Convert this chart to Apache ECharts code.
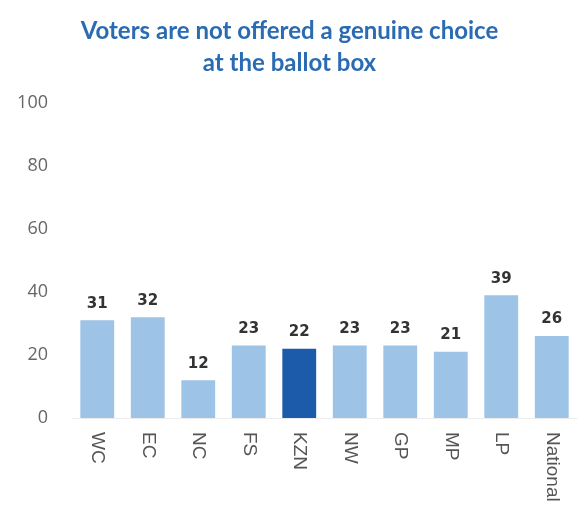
<!DOCTYPE html>
<html><head><meta charset="utf-8">
<script src="https://cdn.jsdelivr.net/npm/echarts@6/dist/echarts.min.js"></script>
<style>html,body{margin:0;padding:0;background:#fff}#c{width:579px;height:512px}</style>
</head><body><div id="c"></div>
<script>
const categories = ['WC','EC','NC','FS','KZN','NW','GP','MP','LP','National'];
const values = [31,32,12,23,22,23,23,21,39,26];
const highlight = 'KZN';
const titleText = 'Voters are not offered a genuine choice\nat the ballot box';
const chart = echarts.init(document.getElementById('c'));
chart.setOption({
  animation:false,
  title:{text:titleText,left:'center',top:10,textStyle:{color:'#2B6BB2',fontSize:24,fontWeight:'bold',fontFamily:'Lato',lineHeight:32}},
  grid:{left:72,right:2,top:103,bottom:94},
  xAxis:{type:'category',data:categories,axisTick:{show:false},axisLine:{lineStyle:{color:'#ececec'}},
    axisLabel:{rotate:-90,color:'#555',fontSize:19,fontFamily:'Liberation Sans',margin:14}},
  yAxis:{type:'value',min:0,max:100,interval:20,splitLine:{show:false},axisLine:{show:false},axisTick:{show:false},
    axisLabel:{color:'#666',fontSize:18,fontFamily:'Open Sans',margin:24}},
  series:[{type:'bar',barWidth:'67%',
    data:values.map((v,i)=>({value:v,itemStyle:{color:categories[i]===highlight?'#1C5AAA':'#9DC3E6'}})),
    label:{show:true,position:'top',color:'#333',fontWeight:'bold',fontSize:15,fontFamily:'DejaVu Sans',distance:9}}]
});
</script></body></html>
